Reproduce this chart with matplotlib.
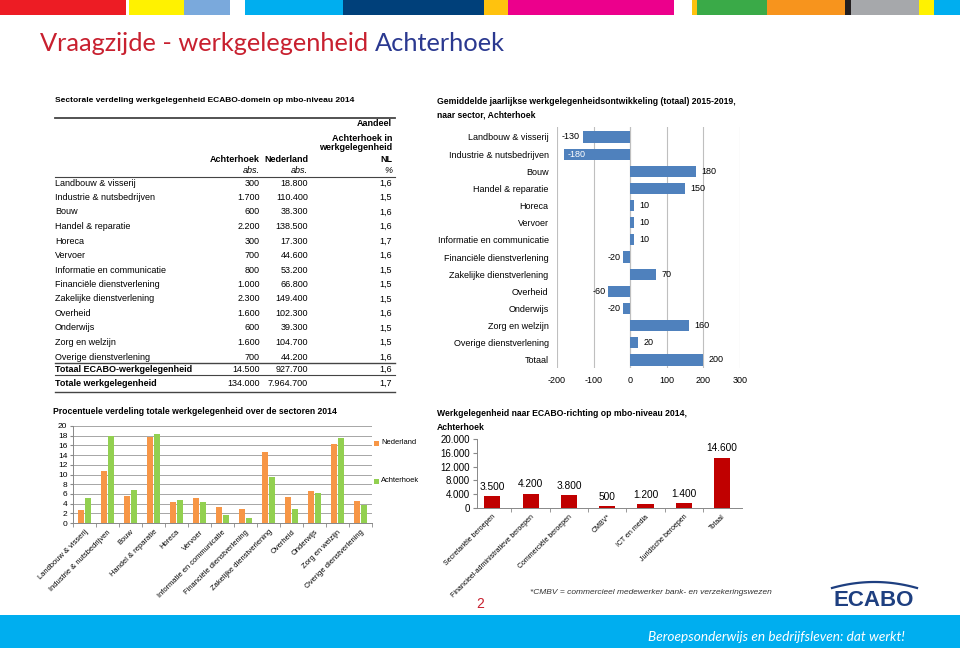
import matplotlib.pyplot as plt
from matplotlib.patches import Rectangle
from matplotlib.lines import Line2D
import numpy as np

W, H = 960, 648
plt.rcParams['font.family'] = ['Liberation Sans', 'DejaVu Sans']
plt.rcParams['axes.unicode_minus'] = False

# ---- data ----
sectoren = ['Landbouw & visserij', 'Industrie & nutsbedrijven', 'Bouw',
            'Handel & reparatie', 'Horeca', 'Vervoer',
            'Informatie en communicatie', 'Financiële dienstverlening',
            'Zakelijke dienstverlening', 'Overheid', 'Onderwijs',
            'Zorg en welzijn', 'Overige dienstverlening']
achterhoek_abs = ['300', '1.700', '600', '2.200', '300', '700', '800',
                  '1.000', '2.300', '1.600', '600', '1.600', '700']
nederland_abs = ['18.800', '110.400', '38.300', '138.500', '17.300', '44.600',
                 '53.200', '66.800', '149.400', '102.300', '39.300', '104.700',
                 '44.200']
aandeel_pct = ['1,6', '1,5', '1,6', '1,6', '1,7', '1,6', '1,5', '1,5', '1,5',
               '1,6', '1,5', '1,5', '1,6']
totaal_labels = ['Totaal ECABO-werkgelegenheid', 'Totale werkgelegenheid']
totaal_achterhoek = ['14.500', '134.000']
totaal_nederland = ['927.700', '7.964.700']
totaal_pct = ['1,6', '1,7']

# groei 2015-2019
groei_cat = sectoren + ['Totaal']
groei = [-130, -180, 180, 150, 10, 10, 10, -20, 70, -60, -20, 160, 20, 200]

# procentuele verdeling 2014
pct_nederland = [2.6, 10.8, 5.5, 17.7, 4.4, 5.1, 3.2, 2.8, 14.6, 5.4, 6.7, 16.3, 4.5]
pct_achterhoek = [5.2, 17.9, 6.8, 18.4, 4.7, 4.3, 1.7, 1.0, 9.4, 2.8, 6.2, 17.6, 3.7]

# ECABO-richting
richting = ['Secretariële beroepen', 'Financieel-administratieve beroepen',
            'Commerciële beroepen', 'CMBV*', 'ICT en media',
            'Juridische beroepen', 'Totaal']
richting_val = [3500, 4200, 3800, 500, 1200, 1400, 14600]

# top strip colours
strip = [(0, 126, '#ed1c24'), (129, 184, '#fff200'), (184, 230, '#7aa9dc'),
         (245, 343, '#00aeef'), (343, 484, '#00407a'), (484, 508, '#ffc20e'),
         (508, 674, '#ec008c'), (692, 697, '#ffc20e'), (697, 767, '#3aaa48'),
         (767, 845, '#f7941d'), (845, 851, '#231f20'), (851, 919, '#a6a8ab'),
         (919, 934, '#fff200'), (934, 960, '#00aeef')]


def fx(x):
    return x / W


def fy(y):
    return 1 - y / H


def dots(v):
    return f'{v:,.0f}'.replace(',', '.')


fig = plt.figure(figsize=(9.6, 6.48), dpi=100)

for x0, x1, c in strip:
    fig.add_artist(Rectangle((fx(x0), fy(15)), (x1 - x0) / W, 15 / H,
                             transform=fig.transFigure, color=c, lw=0))

# title
t1 = fig.text(fx(40), fy(51), 'Vraagzijde - werkgelegenheid ', color='#c8202f',
              fontsize=18.3, family='Lato', va='baseline')
fig.canvas.draw()
bb = t1.get_window_extent()
fig.text(bb.x1 / W, fy(51), 'Achterhoek', color='#2b3990', fontsize=18.3,
         family='Lato', va='baseline')

# ---- table ----
fs = 6.5
fig.text(fx(55), fy(100), 'Sectorale verdeling werkgelegenheid ECABO-domein op mbo-niveau 2014',
         fontsize=6.0, fontweight='bold', va='center')


def hline(y, lw):
    fig.add_artist(Line2D([fx(55), fx(395)], [fy(y), fy(y)], lw=lw, color='#444444',
                          transform=fig.transFigure))


hline(118, 1.3)
hline(177, 0.8)
hline(363, 1.0)
hline(375, 0.8)
hline(392, 1.0)

c_ach, c_ned, c_pct = 260, 308, 392
for y, s in zip([124, 138, 148, 160], ['Aandeel', 'Achterhoek in', 'werkgelegenheid', 'NL']):
    fig.text(fx(c_pct), fy(y), s, fontsize=fs, fontweight='bold', ha='right', va='center')
fig.text(fx(c_ach), fy(159), 'Achterhoek', fontsize=fs, fontweight='bold', ha='right', va='center')
fig.text(fx(c_ned), fy(159), 'Nederland', fontsize=fs, fontweight='bold', ha='right', va='center')
fig.text(fx(c_ach), fy(171), 'abs.', fontsize=fs, style='italic', ha='right', va='center')
fig.text(fx(c_ned), fy(171), 'abs.', fontsize=fs, style='italic', ha='right', va='center')
fig.text(fx(c_pct), fy(171), '%', fontsize=fs, style='italic', ha='right', va='center')

for i, s in enumerate(sectoren):
    y = 183 + i * 14.5
    fig.text(fx(55), fy(y), s, fontsize=fs, va='center')
    fig.text(fx(c_ach), fy(y), achterhoek_abs[i], fontsize=fs, ha='right', va='center')
    fig.text(fx(c_ned), fy(y), nederland_abs[i], fontsize=fs, ha='right', va='center')
    fig.text(fx(c_pct), fy(y), aandeel_pct[i], fontsize=fs, ha='right', va='center')
for y, s, a, n, p in zip([369, 383], totaal_labels, totaal_achterhoek, totaal_nederland, totaal_pct):
    fig.text(fx(55), fy(y), s, fontsize=fs, fontweight='bold', va='center')
    fig.text(fx(c_ach), fy(y), a, fontsize=fs, ha='right', va='center')
    fig.text(fx(c_ned), fy(y), n, fontsize=fs, ha='right', va='center')
    fig.text(fx(c_pct), fy(y), p, fontsize=fs, ha='right', va='center')

# ---- groei chart ----
fig.text(fx(437), fy(101), 'Gemiddelde jaarlijkse werkgelegenheidsontwikkeling (totaal) 2015-2019,',
         fontsize=6.2, fontweight='bold', va='center')
fig.text(fx(437), fy(115), 'naar sector, Achterhoek', fontsize=6.2, fontweight='bold', va='center')

ax1 = fig.add_axes([fx(557), fy(368), (740 - 557) / W, (368 - 127) / H])
ypos = np.arange(len(groei))
ax1.barh(ypos, groei, height=0.65, color='#4f81bd', zorder=3)
ax1.set_xlim(-200, 300)
ax1.set_ylim(13.47, -0.58)
ax1.set_xticks([-200, -100, 0, 100, 200, 300])
ax1.set_yticks(ypos)
ax1.set_yticklabels(groei_cat, fontsize=fs)
ax1.tick_params(axis='both', length=0, labelsize=fs)
ax1.tick_params(axis='y', pad=6)
ax1.tick_params(axis='x', pad=6)
for s in ax1.spines.values():
    s.set_visible(False)
ax1.grid(axis='x', color='#bfbfbf', lw=0.8, zorder=0)
ax1.axvline(0, color='#bfbfbf', lw=0.8, zorder=2)
for y, v in zip(ypos, groei):
    if v >= 0:
        ax1.annotate(str(v), (v, y), xytext=(4, 0), textcoords='offset points',
                     ha='left', va='center', fontsize=fs)
    elif v <= -170:
        ax1.annotate(str(v), (v, y), xytext=(2, 0), textcoords='offset points',
                     ha='left', va='center', fontsize=fs, color='white', zorder=4)
    else:
        ax1.annotate(str(v), (v, y), xytext=(-2, 0), textcoords='offset points',
                     ha='right', va='center', fontsize=fs)

# ---- procentuele verdeling ----
fig.text(fx(53), fy(412), 'Procentuele verdeling totale werkgelegenheid over de sectoren 2014',
         fontsize=6.2, fontweight='bold', va='center')
ax2 = fig.add_axes([fx(73), fy(523), (372 - 73) / W, (523 - 426) / H])
xp = np.arange(len(sectoren))
ax2.bar(xp - 0.15, pct_nederland, width=0.28, color='#f79646', zorder=3)
ax2.bar(xp + 0.15, pct_achterhoek, width=0.28, color='#92d050', zorder=3)
ax2.set_xlim(-0.5, len(sectoren) - 0.5)
ax2.set_ylim(0, 20)
ax2.set_yticks(range(0, 21, 2))
ax2.grid(axis='y', color='#a6a6a6', lw=0.7, zorder=0)
ax2.set_xticks(xp)
ax2.set_xticklabels(sectoren, rotation=45, ha='right', rotation_mode='anchor', fontsize=5.4)
ax2.set_xticks(np.arange(-0.5, len(sectoren), 1), minor=True)
ax2.tick_params(axis='x', which='major', length=0, pad=4)
ax2.tick_params(axis='x', which='minor', length=3, color='#888888')
ax2.tick_params(axis='y', labelsize=6, length=2, color='#888888', pad=2)
for s in ['top', 'right']:
    ax2.spines[s].set_visible(False)
for s in ['left', 'bottom']:
    ax2.spines[s].set_color('#888888')
    ax2.spines[s].set_linewidth(0.7)
for y, lab, c in [(443, 'Nederland', '#f79646'), (481, 'Achterhoek', '#92d050')]:
    fig.add_artist(Rectangle((fx(374), fy(y + 2.5)), 5 / W, 5 / H,
                             transform=fig.transFigure, color=c, lw=0))
    fig.text(fx(381), fy(y), lab, fontsize=5.4, va='center')

# ---- ECABO-richting ----
fig.text(fx(437), fy(414), 'Werkgelegenheid naar ECABO-richting op mbo-niveau 2014,',
         fontsize=6.2, fontweight='bold', va='center')
fig.text(fx(437), fy(428), 'Achterhoek', fontsize=6.2, fontweight='bold', va='center')
ax3 = fig.add_axes([fx(477), fy(508), (742 - 477) / W, (508 - 439) / H])
xr = np.arange(len(richting))
ax3.bar(xr, richting_val, width=0.42, color='#c00000', zorder=3)
ax3.set_xlim(-0.4, len(richting) - 0.48)
ax3.set_ylim(0, 20000)
ax3.set_yticks(range(0, 20001, 4000))
ax3.set_yticklabels([dots(v) for v in range(0, 20001, 4000)], fontsize=7)
ax3.set_xticks(xr)
ax3.set_xticklabels(richting, rotation=45, ha='right', rotation_mode='anchor', fontsize=5)
ax3.set_xticks(np.arange(0.5, len(richting) - 1, 1), minor=True)
ax3.tick_params(axis='x', which='major', length=0, pad=4)
ax3.tick_params(axis='x', which='minor', length=3, color='#888888')
ax3.tick_params(axis='y', length=3, color='#888888', pad=2)
for s in ['top', 'right']:
    ax3.spines[s].set_visible(False)
for s in ['left', 'bottom']:
    ax3.spines[s].set_color('#888888')
    ax3.spines[s].set_linewidth(0.7)
for x, v in zip(xr, richting_val):
    ax3.annotate(dots(v), (x, v), xytext=(0, 3), textcoords='offset points',
                 ha='center', va='bottom', fontsize=7.3)

# ---- footer ----
fig.text(fx(530), fy(592), '*CMBV = commercieel medewerker bank- en verzekeringswezen',
         fontsize=6.0, style='italic', color='#333333', va='center')
fig.text(fx(480), fy(604), '2', fontsize=10, color='#c8202f', ha='center', va='center')
fig.text(fx(874), fy(601), 'ECABO', fontsize=16, fontweight='bold', color='#1e3f80',
         ha='center', va='center')
arc_x = np.linspace(832, 917, 40)
arc_y = 588 - 6 * (1 - ((arc_x - 874.5) / 42.5) ** 2)
fig.add_artist(Line2D(fx(arc_x), fy(arc_y), lw=1.6, color='#1e3f80',
                      transform=fig.transFigure))
fig.add_artist(Rectangle((0, 0), 1, 33 / H, transform=fig.transFigure,
                         color='#00aeef', lw=0))
fig.text(fx(648), fy(637), 'Beroepsonderwijs en bedrijfsleven: dat werkt!', fontsize=9.8,
         style='italic', color='white', va='center', family='Lato')

plt.savefig('out.png', dpi=100)
